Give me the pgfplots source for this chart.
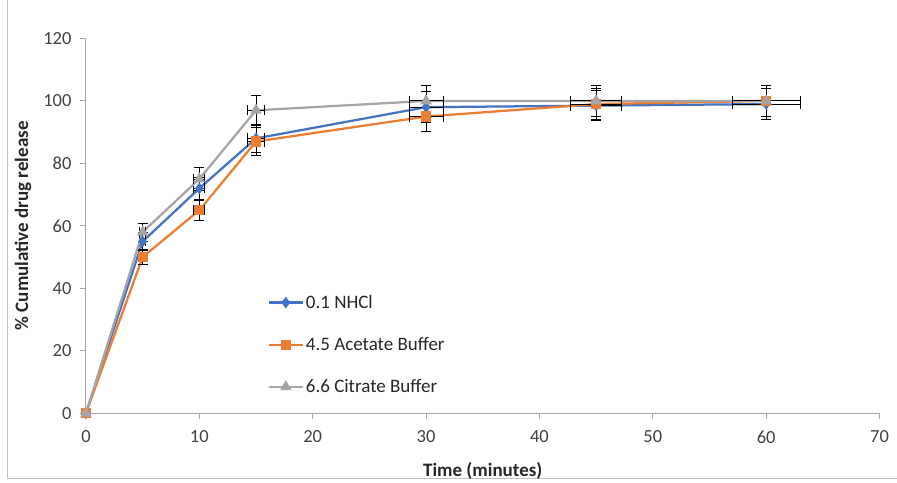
\documentclass[border=0pt]{standalone}
\usepackage{pgfplots}
\pgfplotsset{compat=1.18}
\usepackage{pgfplotstable}
\usepackage{fontspec}
\setmainfont{Carlito}
\definecolor{cblue}{HTML}{4472C4}
\definecolor{corange}{HTML}{ED7D31}
\definecolor{cgray}{HTML}{A5A5A5}
\definecolor{axgray}{HTML}{A6A6A6}
\definecolor{txt}{HTML}{404040}
\pgfplotstableread{
x y ex ey
0 0 0 0
5 55 0.25 2.75
10 72 0.5 3.6
15 88 0.75 4.4
30 98 1.5 4.9
45 98.5 2.25 4.9
60 99 3 4.95
}\tblA
\pgfplotstableread{
x y ex ey
0 0 0 0
5 50 0.25 2.5
10 65 0.5 3.25
15 87 0.75 4.35
30 95 1.5 4.75
45 99 2.25 4.95
60 100 3 5
}\tblB
\pgfplotstableread{
x y ex ey
0 0 0 0
5 58 0.25 2.9
10 75 0.5 3.75
15 97 0.75 4.85
30 100 1.5 5
45 100 2.25 5
60 100 3 5
}\tblC
\begin{document}
\begin{tikzpicture}
\path (0pt,0pt) rectangle (897pt,481pt);
\draw[color=axgray!70, line width=1pt] (8pt,481pt) -- (8pt,3pt) -- (897pt,3pt);
\begin{axis}[
  at={(86pt,68pt)}, anchor=south west,
  scale only axis, width=794pt, height=375pt,
  xmin=0, xmax=70, ymin=0, ymax=120,
  xtick={0,10,...,70}, ytick={0,20,...,120},
  axis x line=bottom, axis y line=left,
  axis line style={-, color=axgray, line width=1pt},
  tick style={color=axgray, line width=1pt},
  major tick length=6pt, tick align=outside,
  tick label style={font=\fontsize{18.5}{22}\selectfont, color=txt},
  /pgf/number format/assume math mode=true,
  xticklabel style={yshift=-8pt},
  yticklabel style={xshift=-5pt},
  xlabel={\bfseries Time (minutes)},
  ylabel={\bfseries \% Cumulative drug release},
  label style={font=\fontsize{19}{22}\selectfont, color=black!85},
  xlabel style={yshift=-12pt},
  ylabel style={yshift=5pt},
  clip=false,
  legend style={at={(0.225,0.326)}, anchor=north west, draw=none, fill=none,
    font=\fontsize{19}{22}\selectfont, text=black!85, row sep=23.5pt},
  legend cell align=left,
  legend image code/.code={
    \draw[#1, mark repeat=2, mark phase=2] plot coordinates {(0pt,0pt) (17pt,0pt) (34pt,0pt)};},
  error bars/error bar style={black, line width=1pt},
  error bars/error mark options={rotate=90, mark size=5pt, black, line width=1pt},
]
\addplot[color=cblue, line width=2.25pt, mark=diamond*, mark size=4pt,
  mark options={fill=cblue, draw=cblue},
  error bars/.cd, x dir=both, x explicit, y dir=both, y explicit]
  table[x=x, y=y, x error=ex, y error=ey] {\tblA};
\addlegendentry{0.1 NHCl}
\addplot[color=corange, line width=2.25pt, mark=square*, mark size=4pt,
  mark options={fill=corange, draw=corange},
  error bars/.cd, x dir=both, x explicit, y dir=both, y explicit]
  table[x=x, y=y, x error=ex, y error=ey] {\tblB};
\addlegendentry{4.5 Acetate Buffer}
\addplot[color=cgray, line width=2.25pt, mark=triangle*, mark size=4.5pt,
  mark options={fill=cgray, draw=cgray},
  error bars/.cd, x dir=both, x explicit, y dir=both, y explicit]
  table[x=x, y=y, x error=ex, y error=ey] {\tblC};
\addlegendentry{6.6 Citrate Buffer}
\end{axis}
\end{tikzpicture}
\end{document}
